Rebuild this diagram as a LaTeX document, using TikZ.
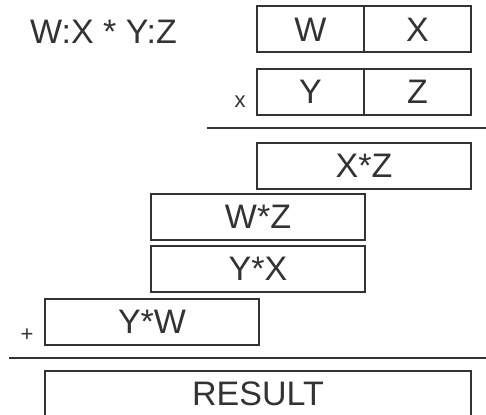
\documentclass[tikz,border=0pt]{standalone}
\usepackage{fontspec}
\setmainfont{Liberation Sans}
\usepackage{tikz}
\usepackage{xcolor}
\usetikzlibrary{positioning}

\definecolor{ink}{HTML}{333333}

\begin{document}
\begin{tikzpicture}[x=1pt, y=-1pt,
        cell/.style={rectangle, draw=ink, line width=2pt, text=ink, inner sep=0pt,
            minimum height=46pt, font=\fontsize{34}{34}\selectfont},
        half/.style={cell, minimum width=107pt},
        whole/.style={cell, minimum width=214pt},
        sign/.style={text=ink, inner sep=0pt, font=\fontsize{22}{22}\selectfont}]
        \useasboundingbox (0, 0) rectangle (486, 414);
        \begin{scope}
        \clip (0, 0) rectangle (486, 414);

        \node[text=ink, font=\fontsize{34}{34}\selectfont] (title) at (103.5, 32) {W:X * Y:Z};

        \node[half] (w) at (310.5, 29.5) {W};
        \node[half] (x) at (417.5, 29.5) {X};
        \node[half] (y) at (310.5, 92) {Y};
        \node[half] (z) at (417.5, 92) {Z};
        \node[sign] (times) at (240, 102) {x};

        \coordinate (rule1a) at (207, 128);
        \coordinate (rule1b) at (486, 128);
        \draw[ink, line width=2pt] (rule1a) -- (rule1b);

        \node[whole] (xz) at (364, 165.5) {X*Z};
        \node[whole] (wz) at (258, 217) {W*Z};
        \node[whole] (yx) at (258, 269) {Y*X};
        \node[whole] (yw) at (152, 321.5) {Y*W};
        \node[sign] (plus) at (27, 335) {+};

        \coordinate (rule2a) at (9, 358);
        \coordinate (rule2b) at (486, 358);
        \draw[ink, line width=2pt] (rule2a) -- (rule2b);

        \node[cell, minimum width=426pt] (result) at (258, 394) {RESULT};
        \end{scope}
    \end{tikzpicture}
\end{document}
